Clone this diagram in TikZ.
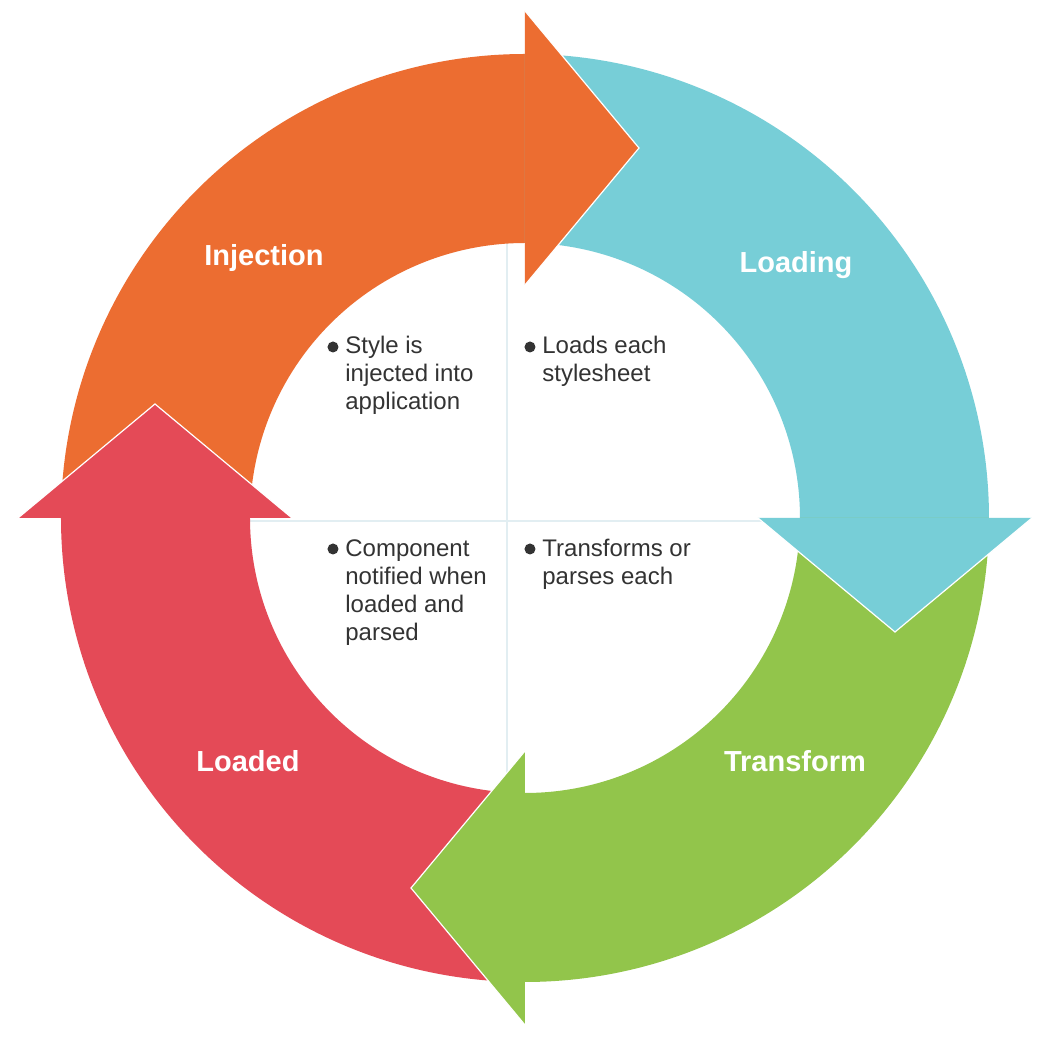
\documentclass[tikz,border=0pt]{standalone}
\usepackage{fontspec}
\setmainfont{Liberation Sans}
\usepackage{xcolor}
\definecolor{injorange}{HTML}{EC6D31}
\definecolor{loadcyan}{HTML}{77CED7}
\definecolor{transgreen}{HTML}{92C54B}
\definecolor{loadedred}{HTML}{E44A57}
\definecolor{notegray}{HTML}{333333}
\definecolor{dividerblue}{HTML}{E2EEF2}
\usetikzlibrary{positioning}

\begin{document}
\begin{tikzpicture}[x=0.5pt, y=0.5pt,
        tipline/.style={draw=white, line width=0.6pt, line join=miter},
        divider/.style={draw=dividerblue, line width=0.8pt},
        stage/.style={font=\fontsize{14.5}{17}\selectfont\bfseries, text=white, anchor=base, inner sep=0pt},
        note/.style={font=\fontsize{12}{14}\selectfont, text=notegray, align=left, anchor=north west, inner sep=0pt},
        dot/.style={fill=notegray}]

        \useasboundingbox (-525,-520) rectangle (521,518);
        \fill [white] (-525,-520) rectangle (521,518);

        % quadrant lines inside the ring
        \coordinate (vtop) at (-18,275);
        \coordinate (vbot) at (-18,-275);
        \coordinate (hleft) at (-277,-3);
        \coordinate (hright) at (275,-3);
        \path [divider] (vtop) -- (vbot);
        \path [divider] (hleft) -- (hright);

        % ring bodies (each runs a little under its own head)
        \fill [injorange] (180:464) arc [start angle=180, end angle=89, radius=464] -- (89:275) arc [start angle=89, end angle=180, radius=275] -- cycle;
        \fill [loadcyan] (90:464) arc [start angle=90, end angle=-1, radius=464] -- (-1:275) arc [start angle=-1, end angle=90, radius=275] -- cycle;
        \fill [transgreen] (0:464) arc [start angle=0, end angle=-91, radius=464] -- (-91:275) arc [start angle=-91, end angle=0, radius=275] -- cycle;
        \fill [loadedred] (-90:464) arc [start angle=-90, end angle=-181, radius=464] -- (-181:275) arc [start angle=-181, end angle=-90, radius=275] -- cycle;

        % arrow heads
        \fill [injorange] (0,507) -- (114,370) -- (0,233) -- cycle;
        \path [tipline] (0,507) -- (114,370) -- (0,233);
        \fill [loadcyan] (507,0) -- (370,-114) -- (233,0) -- cycle;
        \path [tipline] (507,0) -- (370,-114) -- (233,0);
        \fill [transgreen] (0,-507) -- (-114,-370) -- (0,-233) -- cycle;
        \path [tipline] (0,-507) -- (-114,-370) -- (0,-233);
        \fill [loadedred] (-507,0) -- (-370,114) -- (-233,0) -- cycle;
        \path [tipline] (-507,0) -- (-370,114) -- (-233,0);

        % stage names
        \node [stage] (injection) at (-261,252) {Injection};
        \node [stage] (loading) at (271,245) {Loading};
        \node [stage] (transform) at (270,-254) {Transform};
        \node [stage] (loaded) at (-277,-254) {Loaded};

        % notes
        \fill [dot] (-192,171) circle (5.5);
        \node [note] (injnote) at (-180,184.6) {\strut Style is\\injected into\\application};
        \fill [dot] (5,171) circle (5.5);
        \node [note] (loadnote) at (17,184.6) {\strut Loads each\\stylesheet};
        \fill [dot] (-192,-31) circle (5.5);
        \node [note] (loadednote) at (-180,-18.4) {\strut Component\\notified when\\loaded and\\parsed};
        \fill [dot] (5,-31) circle (5.5);
        \node [note] (transnote) at (17,-18.4) {\strut Transforms or\\parses each};
    \end{tikzpicture}
\end{document}
